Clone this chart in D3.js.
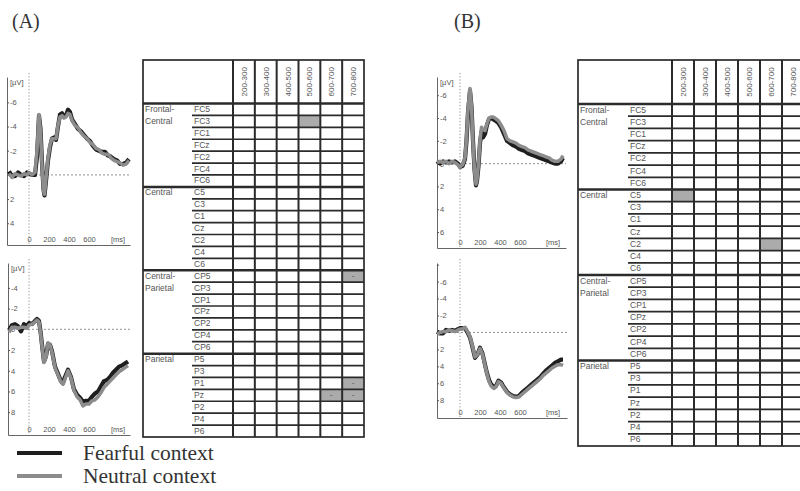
<!DOCTYPE html>
<html>
<head>
<meta charset="utf-8">
<script src="https://cdn.jsdelivr.net/npm/d3@7"></script>
<style>
  body { margin: 0; background: #fff; }
  svg { display: block; font-family: "Liberation Sans", Arial, sans-serif; }
</style>
</head>
<body>
<svg id="fig" width="800" height="491"></svg>
<script>
// ---- table categories ----
const windows = ["200-300", "300-400", "400-500", "500-600", "600-700", "700-800"];
const groupNames = [["Frontal-", "Central"], ["Central"], ["Central-", "Parietal"], ["Parietal"]];
const groupElectrodes = [
    ["FC5", "FC3", "FC1", "FCz", "FC2", "FC4", "FC6"],
    ["C5", "C3", "C1", "Cz", "C2", "C4", "C6"],
    ["CP5", "CP3", "CP1", "CPz", "CP2", "CP4", "CP6"],
    ["P5", "P3", "P1", "Pz", "P2", "P4", "P6"]
];
// significant cells (electrode, window, mark)
const sigA = [
    ["FC3", "500-600", ""],
    ["CP5", "700-800", "-"],
    ["P1", "700-800", "-"],
    ["Pz", "600-700", "-"],
    ["Pz", "700-800", "-"]
];
const sigB = [
    ["C5", "200-300", ""],
    ["C2", "600-700", ""]
];

// ---- ERP waveforms (µV, negative plotted up) ----
const timesAT = [-200, -170, -140, -110, -80, -50, -20, 0, 30, 60, 80, 100, 115, 130, 145, 155, 170, 190, 210, 230, 250, 270, 290, 310, 330, 350, 370, 390, 410, 430, 460, 490, 520, 550, 580, 610, 640, 670, 700, 730, 760, 790, 820, 850, 880, 910, 940, 970, 1000];
const fearfulAT = [-0.3, 0.1, 0.1, -0.2, 0.0, 0.1, -0.2, -0.1, 0.0, 0.0, -1.5, -4.9, -3.8, -1.0, 1.2, 1.7, 0.5, -1.2, -2.3, -3.0, -3.1, -2.9, -4.0, -5.0, -5.1, -4.8, -4.9, -5.4, -5.2, -4.6, -4.2, -3.8, -3.6, -3.3, -3.0, -2.8, -2.4, -2.1, -2.0, -1.9, -1.9, -1.6, -1.5, -1.3, -1.2, -0.9, -0.9, -1.0, -1.3];
const neutralAT = [-0.1, 0.2, -0.1, 0.0, 0.1, -0.1, 0.0, -0.2, 0.0, -0.2, -2.0, -5.0, -3.6, -0.8, 1.3, 1.6, 0.3, -1.4, -2.5, -3.0, -3.0, -3.0, -4.1, -4.8, -4.9, -4.7, -4.8, -5.1, -5.0, -4.5, -4.1, -3.9, -3.5, -3.2, -3.0, -2.7, -2.5, -2.2, -2.1, -1.8, -1.7, -1.7, -1.4, -1.2, -1.1, -1.0, -0.8, -0.9, -1.2];

const timesAB = [-200, -170, -140, -110, -80, -50, -20, 0, 30, 60, 80, 100, 115, 130, 150, 170, 190, 210, 230, 260, 290, 320, 340, 360, 390, 420, 450, 480, 510, 540, 570, 600, 630, 660, 690, 720, 750, 780, 810, 840, 870, 900, 930, 960, 990];
const fearfulAB = [0.1, -0.4, -0.5, -0.3, 0.2, -0.5, -0.3, -0.6, -0.5, -0.8, -1.0, -0.8, 0.2, 1.5, 3.1, 2.6, 1.4, 1.5, 2.1, 3.6, 4.3, 5.0, 5.2, 4.6, 3.9, 4.6, 5.8, 6.3, 6.6, 7.0, 6.9, 6.9, 6.5, 6.2, 6.0, 5.5, 5.0, 4.9, 4.6, 4.2, 3.9, 3.6, 3.5, 3.3, 3.1];
const neutralAB = [0.3, -0.2, -0.2, -0.1, -0.2, -0.2, -0.1, -0.4, -0.5, -0.7, -0.9, -0.7, 0.3, 1.6, 3.2, 2.7, 1.3, 1.5, 2.2, 3.7, 4.4, 5.1, 5.3, 4.8, 4.0, 4.7, 5.9, 6.5, 6.8, 7.4, 7.2, 7.2, 6.9, 6.8, 6.5, 6.1, 5.6, 5.3, 5.0, 4.7, 4.4, 4.1, 3.9, 3.7, 3.5];

const timesBT = [-230, -200, -170, -140, -110, -80, -50, -20, 0, 25, 50, 65, 80, 100, 115, 130, 145, 160, 170, 185, 200, 215, 230, 250, 270, 290, 310, 330, 350, 380, 410, 440, 470, 500, 530, 560, 590, 620, 650, 680, 710, 740, 770, 800, 830, 860, 890, 920, 950, 980, 1010, 1030];
const fearfulBT = [-0.2, 0.0, -0.2, -0.1, -0.2, -0.1, -0.2, 0.0, 0.3, 0.2, -0.4, -2.0, -4.5, -6.4, -5.0, -2.0, 0.5, 1.9, 1.5, 0.2, -1.8, -2.8, -2.3, -2.6, -3.4, -3.9, -4.0, -3.9, -3.8, -3.6, -3.2, -2.6, -2.0, -1.8, -1.6, -1.5, -1.3, -1.2, -1.1, -0.9, -0.8, -0.7, -0.6, -0.5, -0.4, -0.3, -0.2, -0.1, 0.0, 0.0, -0.2, -0.5];
const neutralBT = [-0.1, -0.2, -0.1, -0.2, 0.0, -0.2, -0.1, 0.1, 0.3, 0.1, -0.5, -2.2, -4.8, -6.6, -5.0, -1.8, 0.6, 1.8, 1.4, 0.0, -2.0, -3.2, -3.0, -2.9, -3.5, -4.0, -4.1, -4.1, -4.0, -3.8, -3.4, -2.9, -2.2, -2.0, -1.9, -1.8, -1.6, -1.5, -1.4, -1.2, -1.1, -1.0, -0.9, -0.8, -0.7, -0.6, -0.5, -0.3, -0.2, -0.2, -0.4, -0.7];

const timesBB = [-230, -200, -170, -140, -110, -80, -50, -20, 0, 20, 50, 80, 100, 120, 150, 175, 200, 225, 250, 270, 290, 310, 340, 360, 385, 410, 430, 470, 500, 530, 560, 590, 620, 650, 680, 710, 740, 770, 800, 830, 860, 890, 920, 950, 980, 1010, 1030];
const fearfulBB = [-0.1, 0.1, 0.1, -0.3, -0.2, -0.3, -0.2, -0.4, -0.5, -0.5, -0.5, 0.1, 0.6, 1.5, 3.0, 2.6, 1.8, 2.5, 3.8, 4.8, 5.6, 6.1, 6.5, 6.3, 5.7, 5.9, 6.3, 7.0, 7.3, 7.5, 7.6, 7.5, 7.1, 6.8, 6.5, 6.2, 5.9, 5.6, 5.3, 4.9, 4.5, 4.2, 3.9, 3.6, 3.4, 3.2, 3.2];
const neutralBB = [0.2, 0.0, -0.1, -0.1, -0.3, -0.2, -0.1, -0.3, -0.4, -0.4, -0.6, 0.0, 0.5, 1.4, 2.9, 2.6, 1.9, 2.6, 3.9, 4.9, 5.8, 6.3, 6.6, 6.4, 5.8, 6.0, 6.4, 7.1, 7.4, 7.6, 7.7, 7.6, 7.3, 7.0, 6.7, 6.4, 6.1, 5.8, 5.5, 5.1, 4.8, 4.5, 4.2, 4.0, 3.8, 3.8, 3.9];

const timeTicks = [0, 200, 400, 600];
const legendLabels = ["Fearful context", "Neutral context"];

const FEAR_COLOR = "#1e1e1e";
const NEUTRAL_COLOR = "#8c8c8c";
const LINE_COLOR = "#2b2b2b";
const TEXT_COLOR = "#555";

const svg = d3.select("#fig");
svg.append("rect").attr("width", 800).attr("height", 491).attr("fill", "#fff");

// ---- ERP panel ----
function drawErp(o, times, fearful, neutral) {
    const g = svg.append("g");
    const x = d3.scaleLinear().domain(o.xDomain).range([o.left, o.right]);
    const y = d3.scaleLinear().domain(o.yDomain).range([o.top, o.bottom]);

    // zero reference lines
    g.append("line")
        .attr("x1", o.left).attr("x2", o.right)
        .attr("y1", y(0)).attr("y2", y(0))
        .attr("stroke", "#777").attr("stroke-width", 0.8)
        .attr("stroke-dasharray", "2,2");
    g.append("line")
        .attr("x1", x(0)).attr("x2", x(0))
        .attr("y1", o.top - 4).attr("y2", o.bottom)
        .attr("stroke", "#777").attr("stroke-width", 0.8)
        .attr("stroke-dasharray", "1.2,2");

    const yAxis = d3.axisRight(y)
        .tickValues(o.yTicks)
        .tickSize(2)
        .tickSizeOuter(0)
        .tickPadding(1)
        .tickFormat(d => o.hideTicks && o.hideTicks.includes(d) ? "" : (d < 0 ? "-" + (-d) : d));
    const ya = g.append("g").attr("transform", `translate(${o.left},0)`).call(yAxis);

    const xAxis = d3.axisTop(x)
        .tickValues(timeTicks)
        .tickSize(0)
        .tickSizeOuter(0)
        .tickPadding(3);
    const xa = g.append("g").attr("transform", `translate(0,${o.bottom})`).call(xAxis);

    [ya, xa].forEach(a => {
        a.select(".domain").attr("stroke", "#555").attr("stroke-width", 0.9);
        a.selectAll(".tick line").attr("stroke", "#555");
        a.selectAll(".tick text")
            .attr("fill", TEXT_COLOR)
            .style("font-size", "7.5px")
            .style("font-family", "Liberation Sans, Arial, sans-serif");
    });

    g.append("text")
        .attr("x", x(o.msAt)).attr("y", o.bottom - 3)
        .attr("text-anchor", "middle")
        .attr("fill", TEXT_COLOR).style("font-size", "7.5px")
        .text("[ms]");
    if (o.unit) {
        g.append("text")
            .attr("x", o.left + 3).attr("y", o.top + 8)
            .attr("fill", TEXT_COLOR).style("font-size", "7.5px")
            .text("[\u00b5V]");
    }

    const line = d3.line()
        .x((d, i) => x(times[i]))
        .y(d => y(d))
        .curve(d3.curveLinear);

    g.append("path").datum(fearful)
        .attr("d", line).attr("fill", "none")
        .attr("stroke", FEAR_COLOR).attr("stroke-width", 4.2)
        .attr("stroke-linejoin", "round");
    g.append("path").datum(neutral)
        .attr("d", line).attr("fill", "none")
        .attr("stroke", NEUTRAL_COLOR).attr("stroke-width", 3.5)
        .attr("stroke-linejoin", "round");
}

// ---- significance table ----
function drawTable(o, sig) {
    const g = svg.append("g");
    const rows = groupElectrodes.flat();
    const yRow = d3.scaleBand().domain(rows).range([o.headBottom, o.bottom]);
    const xCol = d3.scaleBand().domain(windows).range([o.dataLeft, o.right]);

    // shaded cells
    g.selectAll("rect.sig").data(sig).enter().append("rect")
        .attr("class", "sig")
        .attr("x", d => xCol(d[1]))
        .attr("y", d => yRow(d[0]))
        .attr("width", xCol.bandwidth())
        .attr("height", yRow.bandwidth())
        .attr("fill", "#ababab");
    g.selectAll("text.mark").data(sig.filter(d => d[2])).enter().append("text")
        .attr("class", "mark")
        .attr("x", d => xCol(d[1]) + xCol.bandwidth() / 2)
        .attr("y", d => yRow(d[0]) + yRow.bandwidth() / 2 + 2)
        .attr("text-anchor", "middle")
        .attr("fill", "#444").style("font-size", "7px")
        .text(d => d[2]);

    // header labels
    g.selectAll("text.win").data(windows).enter().append("text")
        .attr("class", "win")
        .attr("transform", d => `translate(${xCol(d) + xCol.bandwidth() / 2 + 3},${(o.top + o.headBottom) / 2}) rotate(-90)`)
        .attr("text-anchor", "middle")
        .attr("fill", TEXT_COLOR).style("font-size", "8px")
        .text(d => d);

    // electrode labels
    g.selectAll("text.el").data(rows).enter().append("text")
        .attr("class", "el")
        .attr("x", o.elLeft + 2)
        .attr("y", d => yRow(d) + 8.5)
        .attr("fill", TEXT_COLOR).style("font-size", "8.5px")
        .text(d => d);

    // group labels
    groupElectrodes.forEach((els, gi) => {
        groupNames[gi].forEach((t, li) => {
            g.append("text")
                .attr("x", o.left + 2)
                .attr("y", yRow(els[0]) + 8.5 + li * 12)
                .attr("fill", TEXT_COLOR).style("font-size", "8.5px")
                .text(t);
        });
    });

    const stroke = (sel, w) => sel.attr("stroke", LINE_COLOR).attr("stroke-width", w);

    // row lines within groups
    groupElectrodes.forEach(els => {
        els.slice(1).forEach(el => {
            stroke(g.append("line")
                .attr("x1", o.elLeft).attr("x2", o.right)
                .attr("y1", yRow(el)).attr("y2", yRow(el)), 1.7);
        });
    });
    // group separators
    groupElectrodes.slice(1).forEach(els => {
        stroke(g.append("line")
            .attr("x1", o.left).attr("x2", o.right)
            .attr("y1", yRow(els[0])).attr("y2", yRow(els[0])), 2.5);
    });
    // header separator
    stroke(g.append("line")
        .attr("x1", o.left).attr("x2", o.right)
        .attr("y1", o.headBottom).attr("y2", o.headBottom), 2.3);
    // column lines
    windows.forEach(w => {
        stroke(g.append("line")
            .attr("x1", xCol(w)).attr("x2", xCol(w))
            .attr("y1", o.top).attr("y2", o.bottom), 2);
    });
    // outer frame
    stroke(g.append("rect")
        .attr("x", o.left).attr("y", o.top)
        .attr("width", o.right - o.left).attr("height", o.bottom - o.top)
        .attr("fill", "none"), 1.7);
}

// ---- panel A ----
drawErp({ left: 7, right: 130, top: 77, bottom: 245, xDomain: [-220, 1010], yDomain: [-8.1, 5.8], yTicks: [-6, -4, -2, 0, 2, 4], msAt: 890, unit: true },
    timesAT, fearfulAT, neutralAT);
drawErp({ left: 8, right: 130, top: 263, bottom: 435, xDomain: [-210, 1010], yDomain: [-6.4, 10.2], yTicks: [-4, -2, 0, 2, 4, 6, 8], msAt: 890, unit: true },
    timesAB, fearfulAB, neutralAB);
drawTable({ left: 143, top: 60, headBottom: 103.5, bottom: 437, elLeft: 192, dataLeft: 233, right: 364 }, sigA);

// ---- panel B ----
drawErp({ left: 437, right: 566, top: 77, bottom: 248, xDomain: [-230, 1060], yDomain: [-7.6, 7.4], yTicks: [-6, -4, -2, 0, 2, 4, 6], msAt: 930, unit: true },
    timesBT, fearfulBT, neutralBT);
drawErp({ left: 437, right: 567, top: 263, bottom: 418, xDomain: [-230, 1070], yDomain: [-8.2, 10.1], yTicks: [-8, -6, -4, -2, 0, 2, 4, 6, 8], hideTicks: [-8], msAt: 930, unit: false },
    timesBB, fearfulBB, neutralBB);
drawTable({ left: 578, top: 60, headBottom: 104, bottom: 446, elLeft: 628, dataLeft: 672, right: 804 }, sigB);

// ---- panel letters ----
svg.append("text").attr("x", 12).attr("y", 28)
    .style("font-family", "Liberation Serif, Times New Roman, serif")
    .style("font-size", "20px").attr("fill", "#333").text("(A)");
svg.append("text").attr("x", 454).attr("y", 28)
    .style("font-family", "Liberation Serif, Times New Roman, serif")
    .style("font-size", "20px").attr("fill", "#333").text("(B)");

// ---- legend ----
const legendColors = [FEAR_COLOR, NEUTRAL_COLOR];
const legend = svg.append("g");
legendLabels.forEach((label, i) => {
    const ly = 453 + i * 23;
    legend.append("line")
        .attr("x1", 17).attr("x2", 62)
        .attr("y1", ly).attr("y2", ly)
        .attr("stroke", legendColors[i]).attr("stroke-width", 4);
    legend.append("text")
        .attr("x", 83).attr("y", ly + 6.5)
        .style("font-family", "Liberation Serif, Times New Roman, serif")
        .style("font-size", "21.5px").attr("fill", "#333")
        .text(label);
});
</script>
</body>
</html>
